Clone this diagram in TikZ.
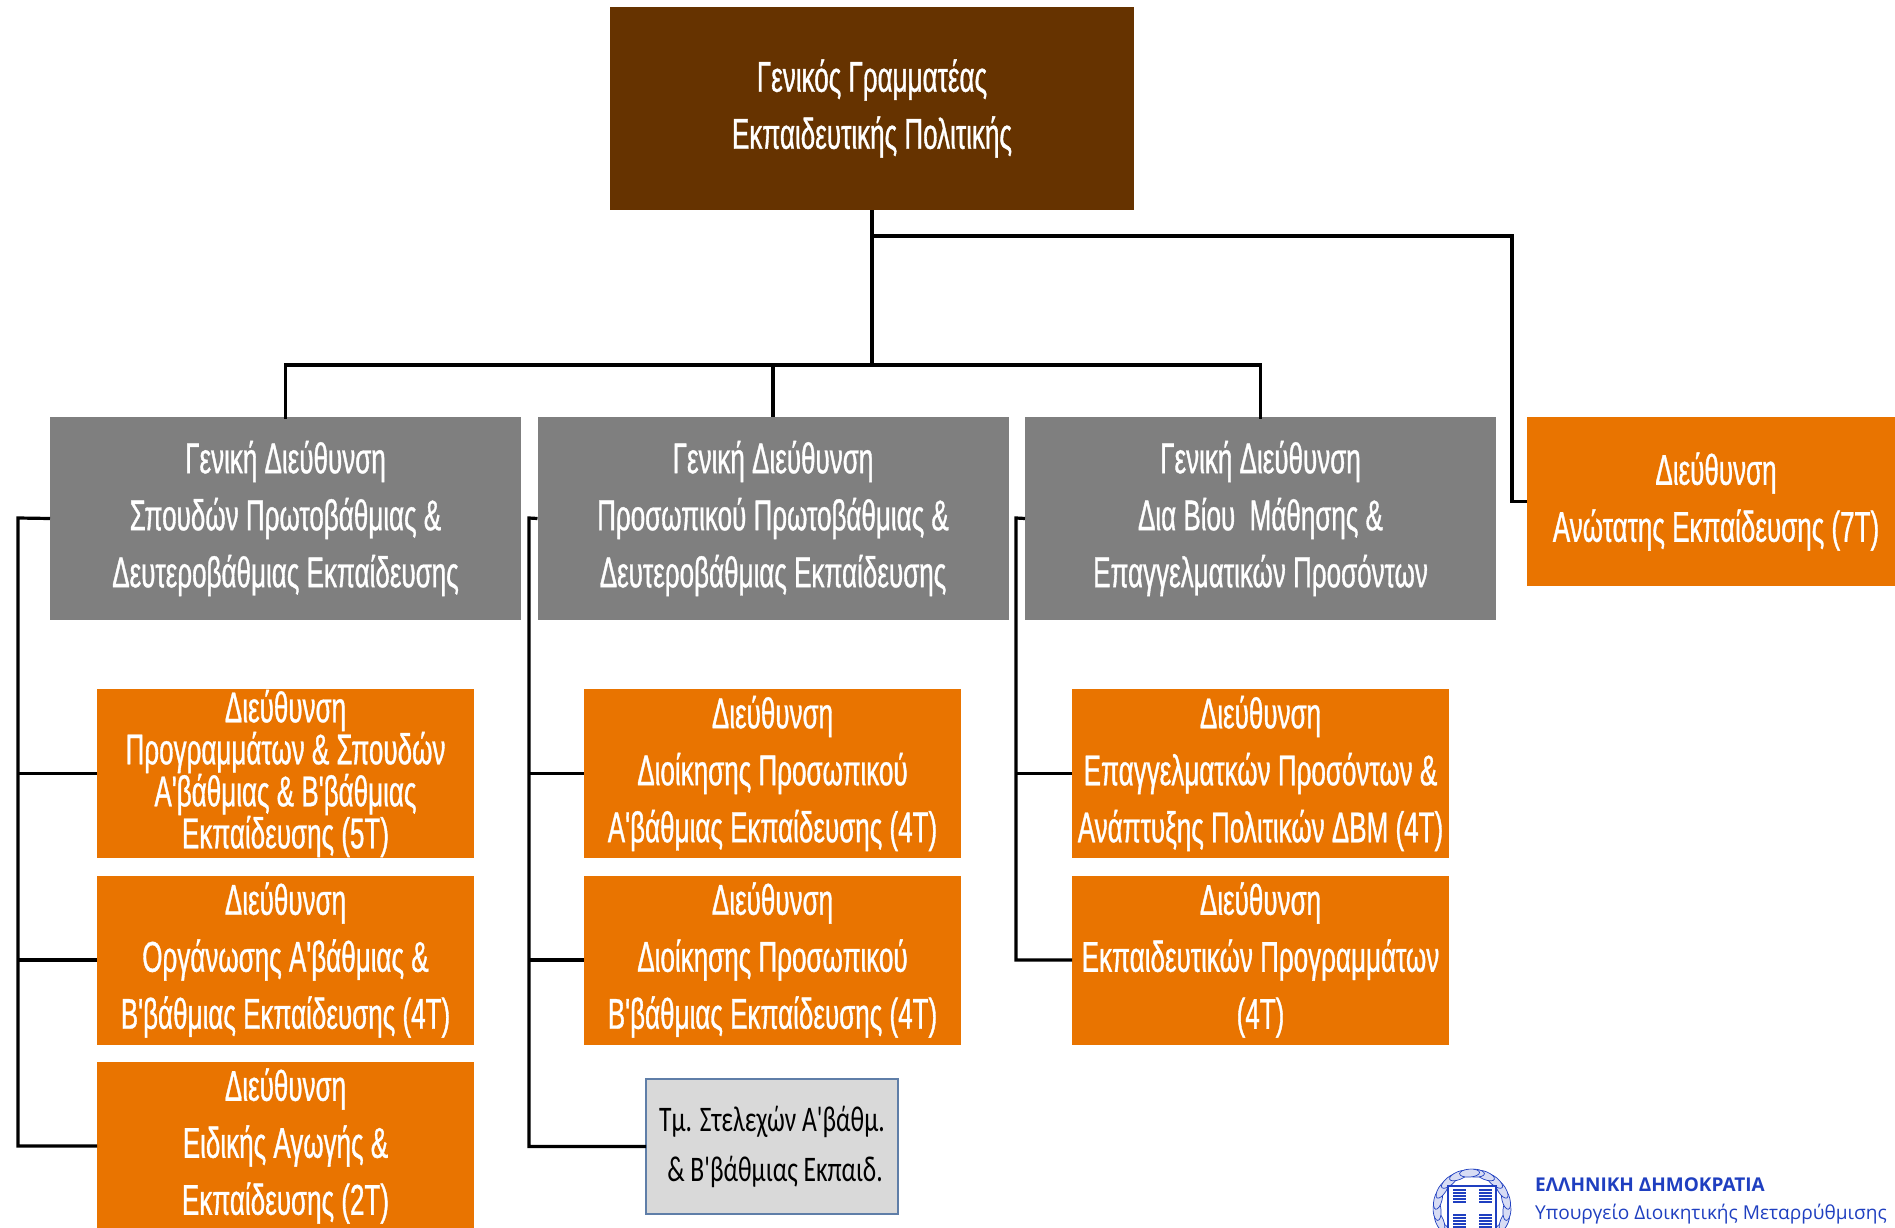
\documentclass[tikz,border=0pt]{standalone}
\usepackage{fontspec}
\usetikzlibrary{calc}
\setmainfont{Liberation Sans}
\newfontfamily\narrowfont[FakeStretch=0.605,FakeBold=0.8]{Liberation Sans}
\newfontfamily\blacknarrow[FakeStretch=0.71]{Carlito}
\newfontfamily\logofont{Open Sans}
\definecolor{brownbox}{HTML}{663300}
\definecolor{graybox}{HTML}{7F7F7F}
\definecolor{orangebox}{HTML}{E97400}
\definecolor{lightbox}{HTML}{D9D9D9}
\definecolor{lightedge}{HTML}{5F7EA8}
\definecolor{logoblue}{HTML}{1F3FC0}
\tikzset{
  x=1pt,y=-1pt,
  boxbase/.style={inner sep=0pt,outer sep=0pt,align=center,text=white,execute at begin node={\rule{0pt}{38pt}}},
  brownnode/.style={boxbase,fill=brownbox,minimum width=524pt,minimum height=203pt,font=\narrowfont\fontsize{43}{57}\selectfont},
  graynode/.style={boxbase,fill=graybox,minimum width=471pt,minimum height=203pt,font=\narrowfont\fontsize{43}{57}\selectfont},
  orangenode/.style={boxbase,fill=orangebox,minimum width=377pt,minimum height=169pt,font=\narrowfont\fontsize{43}{57}\selectfont},
  tightnode/.style={orangenode,font=\narrowfont\fontsize{43}{42}\selectfont},
  widenode/.style={orangenode,minimum width=378pt},
  lightnode/.style={inner sep=0pt,outer sep=0pt,align=center,fill=lightbox,draw=lightedge,line width=1.4pt,minimum width=252pt,minimum height=135pt,font=\blacknarrow\fontsize{36}{50}\selectfont,text=black},
  link/.style={line width=3.6pt,black,line cap=butt,line join=miter},
  thinlink/.style={line width=3.2pt,black,line cap=butt,line join=miter},
  logohead/.style={inner sep=0pt,anchor=base west,text=logoblue,font=\logofont\bfseries\fontsize{19}{22}\selectfont},
  logotext/.style={inner sep=0pt,anchor=base west,text=logoblue,font=\logofont\fontsize{19.1}{24}\selectfont},
  leaf/.style={line width=0.7pt,draw=logoblue,fill=logoblue!18},
  barline/.style={line width=1.3pt,logoblue},
}
\begin{document}
\begin{tikzpicture}
\useasboundingbox (0,0) rectangle (1895,1228);
\clip (0,0) rectangle (1895,1228);
% connector coordinates
\coordinate (bus) at (872,365);
\coordinate (top bus) at (872,236);
\coordinate (sp1) at (18,518);
\coordinate (sp2) at (529,518);
\coordinate (sp3) at (1016,518);
\coordinate (rbus) at (1512,236);
% boxes
\node[brownnode] (top) at (872,108.5) {Γενικός Γραμματέας\\Εκπαιδευτικής Πολιτικής};
\node[graynode] (g1) at (285.5,518.5) {Γενική Διεύθυνση\\Σπουδών Πρωτοβάθμιας \&\\Δευτεροβάθμιας Εκπαίδευσης};
\node[graynode] (g2) at (773,518.5) {Γενική Διεύθυνση\\Προσωπικού Πρωτοβάθμιας \&\\Δευτεροβάθμιας Εκπαίδευσης};
\node[graynode] (g3) at (1260.5,518.5) {Γενική Διεύθυνση\\Δια Βίου\ \ Μάθησης \&\\Επαγγελματικών Προσόντων};
\node[widenode] (r1) at (1716,501.5) {Διεύθυνση\\Ανώτατης Εκπαίδευσης (7Τ)};
\node[tightnode] (a1) at (285.5,773.5) {Διεύθυνση\\Προγραμμάτων \& Σπουδών\\Α'βάθμιας \& Β'βάθμιας\\Εκπαίδευσης (5Τ)};
\node[orangenode] (a2) at (285.5,960) {Διεύθυνση\\Οργάνωσης Α'βάθμιας \&\\Β'βάθμιας Εκπαίδευσης (4Τ)};
\node[orangenode] (a3) at (285.5,1146) {Διεύθυνση\\Ειδικής Αγωγής \&\\Εκπαίδευσης (2Τ)};
\node[orangenode] (b1) at (772.5,773.5) {Διεύθυνση\\Διοίκησης Προσωπικού\\Α'βάθμιας Εκπαίδευσης (4Τ)};
\node[orangenode] (b2) at (772.5,960) {Διεύθυνση\\Διοίκησης Προσωπικού\\Β'βάθμιας Εκπαίδευσης (4Τ)};
\node[lightnode] (b3) at (772,1146.5) {Τμ. Στελεχών Α'βάθμ.\\\hspace*{6pt}\& Β'βάθμιας Εκπαιδ.};
\node[orangenode] (c1) at (1260.5,773.5) {Διεύθυνση\\Επαγγελματκών Προσόντων \&\\Ανάπτυξης Πολιτικών ΔΒΜ (4Τ)};
\node[orangenode] (c2) at (1260.5,960) {Διεύθυνση\\Εκπαιδευτικών Προγραμμάτων\\(4Τ)};
% connectors
\draw[link] (top.south) -- (bus);
\draw[link,line cap=rect] (g1.north) |- (bus) -| (g3.north);
\draw[thinlink] (g2.north) -- (g2.north |- bus);
\draw[thinlink] (top bus) -- (rbus) |- (r1.west);
\draw[thinlink] (g1.west) -- (sp1) |- (a3.west);
\draw[link] (sp1 |- a1.west) -- (a1.west);
\draw[link] (sp1 |- a2.west) -- (a2.west);
\draw[thinlink] (g2.west) -- (sp2) |- (b3.west);
\draw[link] (sp2 |- b1.west) -- (b1.west);
\draw[link] (sp2 |- b2.west) -- (b2.west);
\draw[thinlink] (g3.west) -- (sp3) |- (c2.west);
\draw[link] (sp3 |- c1.west) -- (c1.west);
% logo text
\node[logohead] (lt1) at (1535,1191) {ΕΛΛΗΝΙΚΗ ΔΗΜΟΚΡΑΤΙΑ};
\node[logotext] (lt2) at (1535,1219) {Υπουργείο Διοικητικής Μεταρρύθμισης};
% emblem: laurel wreath, shield and cross
\foreach \a in {-76,-58,...,-4}{
  \draw[leaf,shift={(1472,1208)},rotate=\a] (35,0) ellipse (4 and 10);
  \draw[leaf,shift={(1472,1208)},rotate=180-\a] (35,0) ellipse (4 and 10);
}
\foreach \a in {14,32,...,90}{
  \draw[leaf,shift={(1472,1208)},rotate=\a] (35,0) ellipse (4 and 10);
  \draw[leaf,shift={(1472,1208)},rotate=180-\a] (35,0) ellipse (4 and 10);
}
\draw[line width=1.6pt,logoblue,fill=white] (1448,1186) -- (1496,1186) -- (1496,1240) -- (1448,1240) -- cycle;
\foreach \yy in {1190,1193,1196,1199,1202,1215,1218,1221,1224,1227}{
  \draw[barline] (1453,\yy) -- (1466,\yy);
  \draw[barline] (1479,\yy) -- (1492,\yy);
}
\end{tikzpicture}
\end{document}
